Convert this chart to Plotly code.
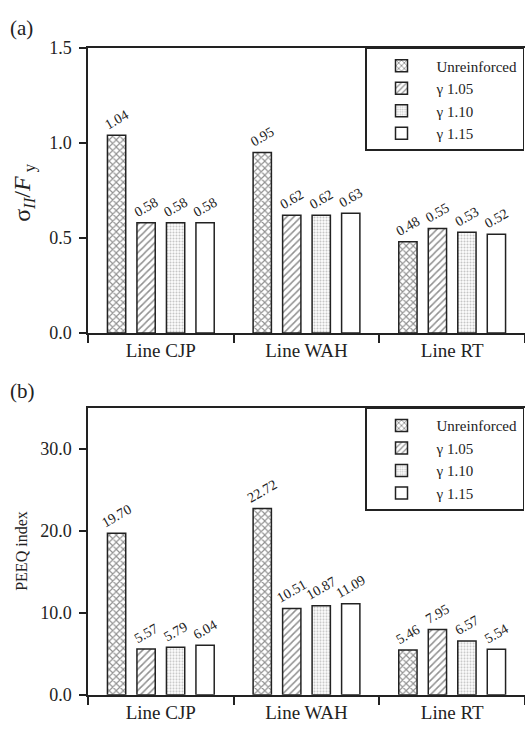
import plotly.graph_objects as go

categories = ["Line CJP", "Line WAH", "Line RT"]
series_names = ["Unreinforced", "γ 1.05", "γ 1.10", "γ 1.15"]

# Panel (a): sigma_II / F_y
a_unreinforced = [1.04, 0.95, 0.48]
a_g105 = [0.58, 0.62, 0.55]
a_g110 = [0.58, 0.62, 0.53]
a_g115 = [0.58, 0.63, 0.52]

# Panel (b): PEEQ index
b_unreinforced = [19.70, 22.72, 5.46]
b_g105 = [5.57, 10.51, 7.95]
b_g110 = [5.79, 10.87, 6.57]
b_g115 = [6.04, 11.09, 5.54]

a_series = [a_unreinforced, a_g105, a_g110, a_g115]
b_series = [b_unreinforced, b_g105, b_g110, b_g115]

FONT = "Liberation Serif, serif"
W, H = 525, 732

patterns = [
    dict(shape="x", size=5, solidity=0.4, fgcolor="#222", bgcolor="white"),
    dict(shape="/", size=5, solidity=0.3, fgcolor="#222", bgcolor="white"),
    dict(shape=".", size=3, solidity=0.4, fgcolor="#8a8a8a", bgcolor="white"),
    dict(shape="", fgcolor="#222", bgcolor="white"),
]

fig = go.Figure()

for i, name in enumerate(series_names):
    for vals, xa, ya, leg in [(a_series[i], "x", "y", "legend"),
                              (b_series[i], "x2", "y2", "legend2")]:
        fig.add_trace(go.Bar(
            x=categories, y=vals, name=name,
            xaxis=xa, yaxis=ya, legend=leg,
            offsetgroup=str(i),
            marker=dict(color="white", line=dict(color="#222", width=1.5),
                        pattern=patterns[i]),
            text=[f"{v:.2f}" for v in vals],
            textposition="outside", textangle=-30,
            constraintext="none", cliponaxis=False,
            textfont=dict(family=FONT, size=14, color="#222"),
        ))

def px_x(p):
    return p / W

def px_y(p):
    return 1 - p / H

xdom = [px_x(88), 1.0]
axis_common = dict(showline=True, linecolor="#222", linewidth=1.5,
                   ticks="outside", tickcolor="#222", tickwidth=1.5,
                   showgrid=False, zeroline=False)
ytick_font = dict(family=FONT, size=18, color="#222")
xtick_font = dict(family=FONT, size=19, color="#222")
legend_common = dict(x=px_x(365), xanchor="left", yanchor="top",
                     bordercolor="#222", borderwidth=1.5, bgcolor="white",
                     font=dict(family=FONT, size=15, color="#222"),
                     itemwidth=60, tracegroupgap=0)

fig.update_layout(
    width=W, height=H,
    margin=dict(l=0, r=0, t=0, b=0),
    paper_bgcolor="white", plot_bgcolor="white",
    barmode="group", bargap=0.19, bargroupgap=0.38,
    font=dict(family=FONT, color="#222"),
    xaxis=dict(domain=xdom, anchor="y", tickson="boundaries", ticklen=8,
               mirror=True, tickfont=xtick_font, **axis_common),
    yaxis=dict(domain=[px_y(332), px_y(39)], anchor="x", range=[0, 1.5],
               dtick=0.5, tickformat=".1f", ticklen=7, ticklabelstandoff=4,
               tickfont=ytick_font, **axis_common),
    xaxis2=dict(domain=xdom, anchor="y2", tickson="boundaries", ticklen=8,
                mirror=True, tickfont=xtick_font, **axis_common),
    yaxis2=dict(domain=[px_y(704), px_y(409)], anchor="x2", range=[0, 35],
                dtick=10, tickformat=".1f", ticklen=7, ticklabelstandoff=4,
                tickfont=ytick_font, **axis_common),
    legend=dict(y=px_y(39), **legend_common),
    legend2=dict(y=px_y(409), **legend_common),
    annotations=[
        dict(text="(a)", x=px_x(8), y=px_y(18), xref="paper", yref="paper",
             xanchor="left", yanchor="middle", showarrow=False,
             font=dict(family=FONT, size=21, color="#222")),
        dict(text="(b)", x=px_x(8), y=px_y(392), xref="paper", yref="paper",
             xanchor="left", yanchor="middle", showarrow=False,
             font=dict(family=FONT, size=21, color="#222")),
        dict(text="σ<sub><i>II</i></sub>/<i>F</i><sub> y</sub>", x=px_x(24), y=px_y(188),
             xref="paper", yref="paper", textangle=-90, showarrow=False,
             xanchor="center", yanchor="middle",
             font=dict(family=FONT, size=24, color="#222")),
        dict(text="PEEQ index", x=px_x(22), y=px_y(556),
             xref="paper", yref="paper", textangle=-90, showarrow=False,
             xanchor="center", yanchor="middle",
             font=dict(family=FONT, size=16, color="#222")),
    ],
)

fig.write_html("out.html")
